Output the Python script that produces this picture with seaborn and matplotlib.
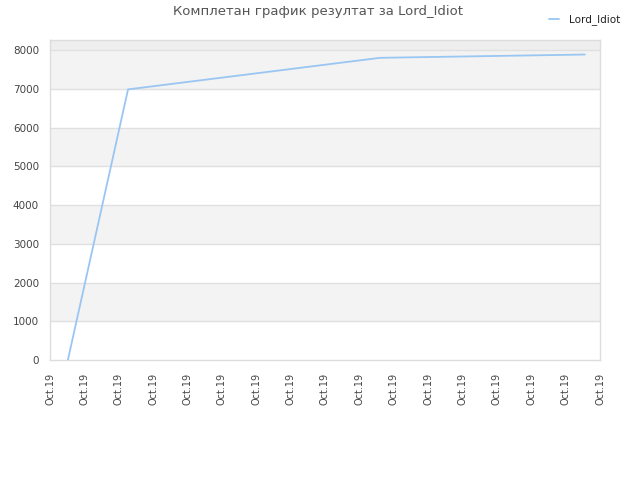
import matplotlib
matplotlib.use("Agg")
import matplotlib.pyplot as plt
import seaborn as sns
import pandas as pd

# Data (x as position along the date axis, in tick units)
x_pos = [0.52, 2.27, 9.6, 15.56]
scores = [0, 6985, 7800, 7885]
tick_labels = ["Oct.19"] * 17
player = "Lord_Idiot"
title = "Комплетан график резултат за Lord_Idiot"

df = pd.DataFrame({"x": x_pos, "score": scores, "player": player})

sns.set_style("white")
plt.rcParams['font.family'] = ['DejaVu Sans']

fig = plt.figure(figsize=(6.4, 4.8), dpi=100)
ax = fig.add_axes([50/640, 1 - 360/480, 550/640, 320/480])

# alternating bands
ymax = 8260
for lo in range(1000, 8000, 2000):
    ax.axhspan(lo, lo + 1000, color="#f3f3f3", zorder=0, lw=0)
ax.axhspan(8000, ymax, color="#eeeeee", zorder=0, lw=0)
for yv in range(1000, 9000, 1000):
    ax.axhline(yv, color="#e0e0e0", lw=1, zorder=1)

sns.lineplot(data=df, x="x", y="score", hue="player", palette=["#99c6f2"],
             lw=1.3, ax=ax, zorder=3)

ax.set_xlim(0, 16)
ax.set_ylim(0, ymax)
ax.set_xticks(range(17))
ax.set_xticklabels(tick_labels, rotation=90, fontsize=7, color="#444444")
ax.set_yticks(range(0, 9000, 1000))
ax.set_yticklabels([str(v) for v in range(0, 9000, 1000)], fontsize=7.5, color="#444444")
ax.tick_params(axis="both", length=0)
ax.tick_params(axis="x", pad=9)
ax.tick_params(axis="y", pad=8)
ax.set_xlabel("")
ax.set_ylabel("")
for s in ax.spines.values():
    s.set_color("#dddddd")
    s.set_linewidth(1)

fig.text(318/640, 1 - 12/480, title, ha="center", va="center", fontsize=9.5, color="#555555")

leg = ax.legend(loc="upper right", bbox_to_anchor=(630/640, 1 - 5/480),
                bbox_transform=fig.transFigure, frameon=False, fontsize=7.5,
                handlelength=1.0, handletextpad=1.0)
for t in leg.get_texts():
    t.set_color("#222222")

fig.savefig("out.png", dpi=100)
